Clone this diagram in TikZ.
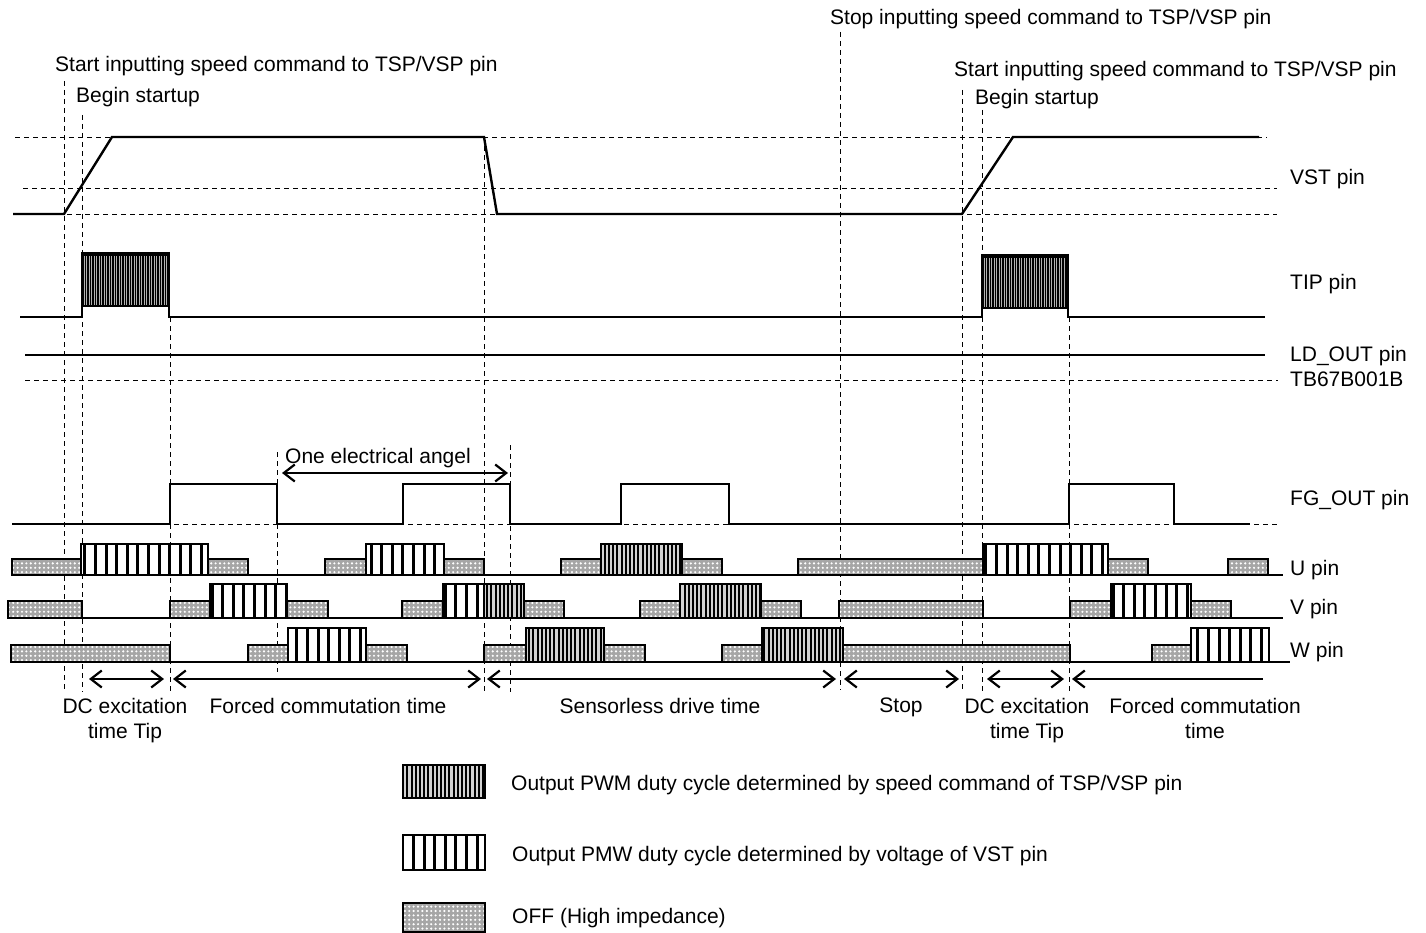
\documentclass[tikz,border=0pt]{standalone}
\usepackage{fontspec}
\setmainfont{Liberation Sans}
\usetikzlibrary{patterns,patterns.meta,arrows.meta}
\newcommand\offb[4]{\fill[gray!70] (#1,#3) rectangle (#2,#4);
  \fill[pattern={Dots[distance=4.4pt,radius=1.2pt]},pattern color=white] (#1,#3) rectangle (#2,#4);
  \draw[boxline] (#1,#3) rectangle (#2,#4);}
\newcommand\vpwmb[4]{\fill[white] (#1,#3) rectangle (#2,#4);
  \fill[pattern={Lines[angle=90,distance=10.6pt,line width=3pt]},pattern color=black] (#1,#3) rectangle (#2,#4);
  \draw[boxline] (#1,#3) rectangle (#2,#4);}
\newcommand\spwmb[4]{\fill[gray!35] (#1,#3) rectangle (#2,#4);
  \fill[pattern={Lines[angle=90,distance=4.2pt,line width=2pt]},pattern color=black] (#1,#3) rectangle (#2,#4);
  \draw[boxline] (#1,#3) rectangle (#2,#4);}
\begin{document}
\begin{tikzpicture}[x=1pt,y=-1pt,
  sig/.style={line width=2.4pt,line join=miter},
  dsh/.style={line width=0.9pt,dash pattern=on 5pt off 4pt},
  boxline/.style={draw=black,line width=2.6pt},
  arr/.style={line width=2.2pt,{Straight Barb[length=11pt,width=17pt]}-{Straight Barb[length=11pt,width=17pt]}},
  lbl/.style={font=\fontsize{21}{25}\selectfont,inner sep=0pt},
  lblw/.style={lbl,anchor=west}]
\useasboundingbox (0,0) rectangle (1426,933);
% ---------------- dashed reference lines
\draw[dsh] (15,137) -- (1267,137);
\draw[dsh] (23,188) -- (1277,188);
\draw[dsh] (13,214) -- (1277,214);
\draw[dsh] (25,380) -- (1278,380);
\draw[dsh] (12,524) -- (1280,524);
\foreach \x/\ya/\yb in {64/81/692, 82/115/692, 170/317/692, 277/452/672, 484/137/692,
  510/445/692, 840/32/690, 962/90/692, 982/110/692, 1069/317/692}
  \draw[dsh] (\x,\ya) -- (\x,\yb);
% ---------------- VST
\draw[sig] (13,214) -- (64,214) -- (112,137) -- (484,137) -- (497,214) -- (962,214) -- (1013,137) -- (1259,137);
% ---------------- TIP
\fill[black] (82,252) rectangle (169,307);
\fill[black] (982,254) rectangle (1068,309);
\foreach \x in {84,86.5,...,167} \draw[gray!60,line width=0.5pt] (\x,256) -- (\x,305);
\foreach \x in {984,986.5,...,1066} \draw[gray!60,line width=0.5pt] (\x,258) -- (\x,307);
\draw[sig] (20,317) -- (82,317) -- (82,252);
\draw[sig] (169,252) -- (169,317) -- (982,317) -- (982,254);
\draw[sig] (1068,254) -- (1068,317) -- (1265,317);
% ---------------- LD_OUT
\draw[sig] (25,355) -- (1265,355);
% ---------------- FG_OUT
\draw[sig] (12,524) -- (170,524) -- (170,484) -- (277,484) -- (277,524) -- (403,524) -- (403,484) -- (510,484) -- (510,524)
  -- (621,524) -- (621,484) -- (729,484) -- (729,524) -- (1069,524) -- (1069,484) -- (1174,484) -- (1174,524) -- (1250,524);
\draw[arr] (282,473) -- (508,473);
% ---------------- U pin
\draw[sig] (12,575) -- (1283,575);
\foreach \a/\b in {12/81, 208/248, 325/366, 444/484, 561/601, 682/722, 798/983, 1108/1148, 1228/1268}
  {\offb{\a}{\b}{575}{559}}
\foreach \a/\b in {81/208, 366/444, 983/1108} {\vpwmb{\a}{\b}{575}{544}}
\foreach \a/\b in {601/682} {\spwmb{\a}{\b}{575}{544}}
% ---------------- V pin
\draw[sig] (8,618) -- (1283,618);
\foreach \a/\b in {8/82, 170/210, 287/328, 402/443, 524/564, 640/680, 761/801, 839/983, 1070/1111, 1191/1231}
  {\offb{\a}{\b}{618}{601}}
\foreach \a/\b in {210/287, 443/484, 1111/1191} {\vpwmb{\a}{\b}{618}{584}}
\foreach \a/\b in {484/524, 680/761} {\spwmb{\a}{\b}{618}{584}}
% ---------------- W pin
\draw[sig] (11,662) -- (1290,662);
\foreach \a/\b in {11/170, 248/288, 366/407, 484/526, 604/645, 722/762, 843/1070, 1152/1191}
  {\offb{\a}{\b}{662}{645}}
\foreach \a/\b in {288/366, 1191/1269} {\vpwmb{\a}{\b}{662}{628}}
\foreach \a/\b in {526/604, 762/843} {\spwmb{\a}{\b}{662}{628}}
% ---------------- period arrows
\coordinate (a1) at (89,679);   \coordinate (a2) at (164,679);
\coordinate (b1) at (173,679);  \coordinate (b2) at (481,679);
\coordinate (c1) at (487,679);  \coordinate (c2) at (836,679);
\coordinate (d1) at (844,679);  \coordinate (d2) at (959,679);
\coordinate (e1) at (987,679);  \coordinate (e2) at (1064,679);
\coordinate (f1) at (1072,679); \coordinate (f2) at (1263,679);
\draw[arr] (a1) -- (a2);
\draw[arr] (b1) -- (b2);
\draw[arr] (c1) -- (c2);
\draw[arr] (d1) -- (d2);
\draw[arr] (e1) -- (e2);
\draw[line width=2.2pt,{Straight Barb[length=11pt,width=17pt]}-] (f1) -- (f2);
% ---------------- legend
\spwmb{403}{485}{798}{765}
\vpwmb{403}{485}{870}{835}
\offb{403}{485}{932}{903}
% ---------------- texts
\node[lblw] (t1) at (55,66) {Start inputting speed command to TSP/VSP pin};
\node[lblw] (t2) at (76,97) {Begin startup};
\node[lblw] (t3) at (830,19) {Stop inputting speed command to TSP/VSP pin};
\node[lblw] (t4) at (954,71) {Start inputting speed command to TSP/VSP pin};
\node[lblw] (t5) at (975,99) {Begin startup};
\node[lblw] (r1) at (1290,179) {VST pin};
\node[lblw] (r2) at (1290,284) {TIP pin};
\node[lblw] (r3) at (1290,356) {LD\_OUT pin};
\node[lblw] (r4) at (1290,379) {TB67B001B};
\node[lblw] (r5) at (1290,500) {FG\_OUT pin};
\node[lblw] (r6) at (1290,570) {U pin};
\node[lblw] (r7) at (1290,609) {V pin};
\node[lblw] (r8) at (1290,652) {W pin};
\node[lblw] (ea) at (285,458) {One electrical angel};
\node[lbl,align=center,anchor=north] (p1) at (125,698) {DC excitation\\time Tip};
\node[lbl,anchor=north] (p2) at (328,698) {Forced commutation time};
\node[lbl,anchor=north] (p3) at (660,698) {Sensorless drive time};
\node[lbl,anchor=north] (p4) at (901,698) {Stop};
\node[lbl,align=center,anchor=north] (p5) at (1027,698) {DC excitation\\time Tip};
\node[lbl,align=center,anchor=north] (p6) at (1205,698) {Forced commutation\\time};
\node[lblw] (g1) at (511,785) {Output PWM duty cycle determined by speed command of TSP/VSP pin};
\node[lblw] (g2) at (512,856) {Output PMW duty cycle determined by voltage of VST pin};
\node[lblw] (g3) at (512,918) {OFF (High impedance)};
\end{tikzpicture}
\end{document}
